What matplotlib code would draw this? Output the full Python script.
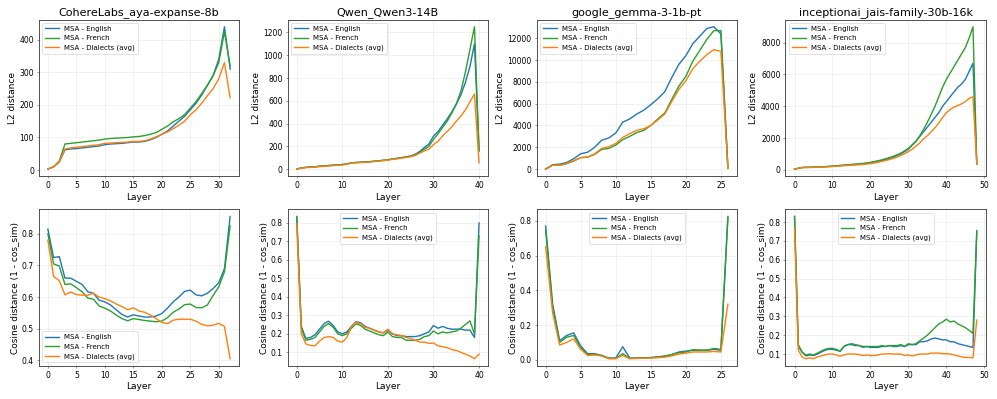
import matplotlib
matplotlib.use("Agg")
import matplotlib.pyplot as plt

# ==========================
# Dados
# ==========================
models = ["CohereLabs_aya-expanse-8b", "Qwen_Qwen3-14B",
          "google_gemma-3-1b-pt", "inceptionai_jais-family-30b-16k"]
series_names = ["MSA - English", "MSA - French", "MSA - Dialects (avg)"]
colors = ["tab:blue", "tab:green", "tab:orange"]

# L2 distance
cohere_l2_en = [3, 10, 25, 62, 65, 66, 68, 70, 72, 74, 78, 80, 81, 82, 84, 86, 86, 88, 93, 100,
                110, 120, 135, 150, 165, 185, 205, 230, 260, 290, 340, 440, 310]
cohere_l2_fr = [3, 10, 28, 80, 82, 84, 86, 88, 90, 92, 95, 97, 98, 99, 100, 102, 103, 106, 110, 115,
                125, 135, 148, 158, 170, 190, 210, 235, 260, 290, 330, 425, 320]
cohere_l2_di = [3, 10, 25, 65, 68, 70, 72, 74, 76, 78, 82, 83, 84, 85, 86, 88, 88, 90, 95, 102,
                110, 117, 127, 138, 150, 170, 185, 205, 228, 250, 280, 330, 222]

qwen_l2_en = [0, 10, 15, 18, 20, 25, 28, 31, 34, 37, 40, 45, 55, 58, 60, 62, 65, 69, 73, 77,
              82, 88, 94, 100, 108, 115, 130, 155, 190, 220, 290, 330, 385, 440, 500, 570, 650,
              760, 900, 1100, 160]
qwen_l2_fr = [0, 10, 15, 18, 20, 25, 28, 31, 34, 37, 40, 45, 55, 58, 60, 62, 65, 69, 73, 77,
              82, 88, 94, 100, 106, 112, 125, 148, 175, 200, 260, 310, 365, 420, 490, 570, 680,
              850, 1050, 1250, 160]
qwen_l2_di = [0, 8, 13, 15, 17, 21, 24, 27, 30, 33, 36, 42, 52, 55, 57, 59, 62, 66, 70, 74,
              79, 85, 90, 96, 102, 108, 120, 140, 160, 175, 215, 245, 290, 330, 370, 420, 465,
              520, 590, 660, 55]

gemma_l2_en = [0, 400, 450, 600, 950, 1400, 1550, 2000, 2650, 2850, 3300, 4300, 4600, 5050,
               5400, 5900, 6450, 7100, 8400, 9600, 10400, 11500, 12200, 12900, 13050, 12400, 100]
gemma_l2_fr = [0, 350, 350, 500, 750, 1050, 1100, 1350, 1800, 1900, 2200, 2700, 3000, 3350,
               3550, 4000, 4600, 5150, 6400, 7600, 8500, 9900, 10900, 11900, 12700, 12700, 100]
gemma_l2_di = [0, 350, 350, 500, 750, 1050, 1100, 1400, 1900, 2050, 2350, 2900, 3250, 3550,
               3700, 4000, 4500, 5050, 6200, 7300, 8100, 9200, 9900, 10500, 10950, 10800, 50]

jais_l2_en = [50, 100, 150, 155, 160, 170, 180, 190, 200, 215, 230, 250, 270, 290, 310, 330,
              350, 370, 390, 420, 450, 500, 550, 600, 650, 720, 800, 900, 1000, 1150, 1300,
              1550, 1800, 2100, 2400, 2700, 3000, 3300, 3600, 4000, 4300, 4600, 4900, 5200,
              5400, 5700, 6200, 6700, 350]
jais_l2_fr = [50, 100, 150, 160, 165, 175, 185, 195, 205, 220, 240, 260, 280, 300, 320, 340,
              360, 380, 400, 430, 470, 520, 570, 630, 700, 770, 850, 950, 1050, 1200, 1350,
              1580, 1800, 2150, 2550, 3000, 3500, 4000, 4600, 5200, 5700, 6100, 6500, 6900,
              7300, 7700, 8300, 9000, 350]
jais_l2_di = [50, 100, 140, 145, 150, 160, 165, 175, 185, 195, 210, 225, 245, 260, 275, 290,
              305, 320, 340, 365, 390, 430, 480, 530, 590, 650, 720, 800, 900, 1020, 1150,
              1300, 1500, 1700, 1950, 2150, 2400, 2650, 2950, 3300, 3600, 3800, 3950, 4050,
              4150, 4300, 4500, 4600, 350]

# Cosine distance
cohere_cos_en = [0.815, 0.725, 0.728, 0.66, 0.66, 0.65, 0.64, 0.617, 0.612, 0.59, 0.585, 0.575,
                 0.56, 0.545, 0.537, 0.544, 0.54, 0.537, 0.537, 0.54, 0.548, 0.565, 0.585, 0.6,
                 0.618, 0.622, 0.607, 0.604, 0.612, 0.627, 0.645, 0.69, 0.855]
cohere_cos_fr = [0.8, 0.705, 0.698, 0.64, 0.642, 0.63, 0.617, 0.597, 0.593, 0.572, 0.565, 0.556,
                 0.543, 0.532, 0.525, 0.532, 0.529, 0.526, 0.524, 0.522, 0.524, 0.535, 0.552,
                 0.562, 0.576, 0.578, 0.567, 0.566, 0.575, 0.605, 0.632, 0.68, 0.825]
cohere_cos_di = [0.78, 0.665, 0.652, 0.607, 0.616, 0.608, 0.606, 0.606, 0.612, 0.6, 0.595, 0.588,
                 0.578, 0.57, 0.56, 0.566, 0.556, 0.552, 0.543, 0.532, 0.52, 0.516, 0.527, 0.53,
                 0.53, 0.53, 0.524, 0.514, 0.509, 0.511, 0.517, 0.507, 0.405]

qwen_cos_en = [0.83, 0.24, 0.175, 0.18, 0.195, 0.225, 0.255, 0.268, 0.245, 0.21, 0.2, 0.21, 0.24,
               0.265, 0.26, 0.24, 0.23, 0.22, 0.21, 0.205, 0.22, 0.2, 0.19, 0.19, 0.185, 0.185,
               0.185, 0.19, 0.2, 0.21, 0.245, 0.23, 0.24, 0.23, 0.225, 0.225, 0.225, 0.22, 0.22,
               0.18, 0.8]
qwen_cos_fr = [0.835, 0.23, 0.165, 0.17, 0.18, 0.21, 0.24, 0.255, 0.235, 0.2, 0.19, 0.2, 0.23,
               0.255, 0.245, 0.225, 0.215, 0.205, 0.195, 0.19, 0.21, 0.185, 0.18, 0.18, 0.165,
               0.165, 0.165, 0.17, 0.185, 0.19, 0.215, 0.2, 0.21, 0.205, 0.21, 0.215, 0.23, 0.25,
               0.27, 0.2, 0.73]
qwen_cos_di = [0.795, 0.2, 0.145, 0.137, 0.135, 0.16, 0.18, 0.185, 0.18, 0.16, 0.155, 0.18, 0.24,
               0.26, 0.255, 0.235, 0.23, 0.22, 0.21, 0.205, 0.225, 0.2, 0.195, 0.19, 0.18, 0.175,
               0.165, 0.155, 0.155, 0.148, 0.15, 0.135, 0.13, 0.125, 0.115, 0.11, 0.1, 0.09, 0.08,
               0.065, 0.09]

gemma_cos_en = [0.77, 0.32, 0.11, 0.14, 0.155, 0.08, 0.035, 0.035, 0.025, 0.01, 0.01, 0.075, 0.01,
                0.01, 0.012, 0.013, 0.017, 0.022, 0.03, 0.045, 0.05, 0.055, 0.055, 0.055, 0.06,
                0.055, 0.82]
gemma_cos_fr = [0.745, 0.3, 0.1, 0.13, 0.14, 0.07, 0.03, 0.03, 0.025, 0.008, 0.008, 0.035, 0.008,
                0.01, 0.01, 0.012, 0.015, 0.02, 0.03, 0.04, 0.045, 0.058, 0.055, 0.055, 0.065,
                0.06, 0.825]
gemma_cos_di = [0.65, 0.27, 0.085, 0.1, 0.12, 0.06, 0.025, 0.028, 0.022, 0.006, 0.006, 0.025,
                0.006, 0.008, 0.009, 0.01, 0.012, 0.015, 0.022, 0.033, 0.038, 0.045, 0.045, 0.045,
                0.048, 0.045, 0.32]

jais_cos_en = [0.83, 0.14, 0.11, 0.09, 0.095, 0.092, 0.1, 0.11, 0.12, 0.125, 0.125, 0.12, 0.115,
               0.14, 0.15, 0.15, 0.145, 0.145, 0.14, 0.14, 0.135, 0.135, 0.135, 0.14, 0.14, 0.145,
               0.14, 0.14, 0.145, 0.14, 0.15, 0.15, 0.15, 0.165, 0.165, 0.17, 0.18, 0.185, 0.18,
               0.175, 0.175, 0.165, 0.165, 0.155, 0.15, 0.145, 0.14, 0.135, 0.75]
jais_cos_fr = [0.83, 0.15, 0.11, 0.095, 0.1, 0.095, 0.105, 0.115, 0.125, 0.13, 0.13, 0.125, 0.115,
               0.14, 0.15, 0.155, 0.15, 0.145, 0.135, 0.14, 0.14, 0.14, 0.14, 0.145, 0.14, 0.145,
               0.145, 0.145, 0.15, 0.14, 0.155, 0.15, 0.155, 0.17, 0.185, 0.2, 0.22, 0.24, 0.26,
               0.27, 0.285, 0.27, 0.275, 0.26, 0.25, 0.24, 0.225, 0.21, 0.755]
jais_cos_di = [0.77, 0.12, 0.085, 0.075, 0.08, 0.075, 0.085, 0.09, 0.095, 0.1, 0.1, 0.095, 0.088,
               0.095, 0.1, 0.1, 0.1, 0.097, 0.092, 0.095, 0.092, 0.092, 0.095, 0.1, 0.1, 0.102,
               0.1, 0.1, 0.1, 0.092, 0.095, 0.09, 0.095, 0.1, 0.1, 0.1, 0.105, 0.105, 0.105, 0.102,
               0.102, 0.1, 0.095, 0.09, 0.085, 0.082, 0.082, 0.08, 0.28]

l2_data = [
    [cohere_l2_en, cohere_l2_fr, cohere_l2_di],
    [qwen_l2_en, qwen_l2_fr, qwen_l2_di],
    [gemma_l2_en, gemma_l2_fr, gemma_l2_di],
    [jais_l2_en, jais_l2_fr, jais_l2_di],
]
cos_data = [
    [cohere_cos_en, cohere_cos_fr, cohere_cos_di],
    [qwen_cos_en, qwen_cos_fr, qwen_cos_di],
    [gemma_cos_en, gemma_cos_fr, gemma_cos_di],
    [jais_cos_en, jais_cos_fr, jais_cos_di],
]
cos_legend_loc = ["lower left", "upper center", "upper center", "upper center"]


# ==========================
# Gráfico
# ==========================
def plot_panel(ax, series, legend_loc, ylabel, title=None):
    for values, name, color in zip(series, series_names, colors):
        ax.plot(range(len(values)), values, label=name, color=color, linewidth=2)
    if title:
        ax.set_title(title, fontsize=16)
    ax.set_xlabel("Layer", fontsize=13)
    ax.set_ylabel(ylabel, fontsize=13)
    ax.tick_params(labelsize=11, color="#444444")
    ax.grid(True, alpha=0.3)
    for spine in ax.spines.values():
        spine.set_color("#444444")
        spine.set_linewidth(1.3)
    ax.legend(loc=legend_loc, fontsize=10)


def main():
    fig, axes = plt.subplots(2, 4, figsize=(19.94, 7.98), dpi=50)

    for i in range(4):
        plot_panel(axes[0, i], l2_data[i], "upper left", "L2 distance", models[i])
        plot_panel(axes[1, i], cos_data[i], cos_legend_loc[i], "Cosine distance (1 - cos_sim)")

    plt.tight_layout()
    fig.savefig("out.png", dpi=50)


if __name__ == "__main__":
    main()
